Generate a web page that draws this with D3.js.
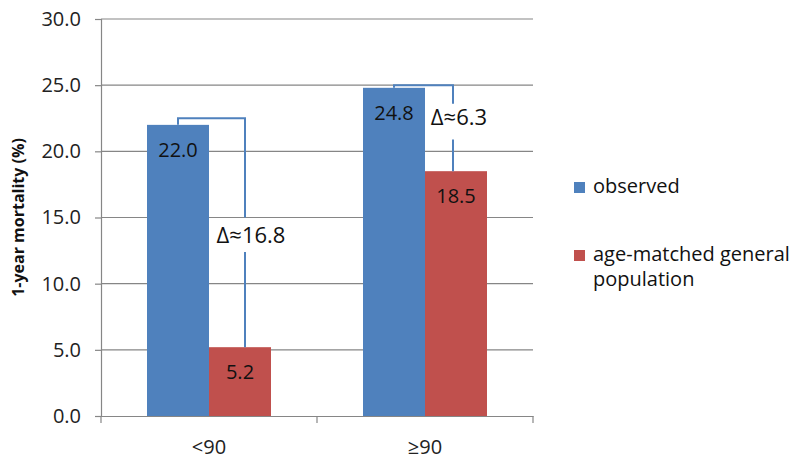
<!DOCTYPE html>
<html><head><meta charset="utf-8">
<script src="https://cdn.jsdelivr.net/npm/d3@7"></script>
<style>
body{margin:0;background:#fff;}
text{font-family:"Open Sans","Noto Sans",sans-serif;}
</style></head>
<body><svg id="c" width="800" height="466"></svg>
<script>
const categories = ["<90", "\u226590"];
const seriesNames = ["observed", "age-matched general population"];
const observed = [22.0, 24.8];
const ageMatched = [5.2, 18.5];
const bracketTop = [22.5, 25.0];
const deltaLabels = ["\u0394\u224816.8", "\u0394\u22486.3"];
const deltaLabelY = [13.1, 22.0];
const gapTop = [15.0, 23.6];
const gapBottom = [12.4, 20.9];
const yTicks = [0, 5, 10, 15, 20, 25, 30];
const colors = ["#4F81BD", "#C0504D"];

const svg = d3.select("#c");
const m = {l:101, r:267, t:19, b:50};
const W = 800, H = 466;
const x = d3.scaleBand().domain(categories).range([m.l, W - m.r]);
const y = d3.scaleLinear().domain([0, 30]).range([H - m.b, m.t]);
const sub = d3.scaleBand().domain([0,1]).range([0, 124]);
const grey = "#868686";

// gridlines
svg.append("g").selectAll("line").data(yTicks.filter(d=>d>0)).join("line")
  .attr("x1", m.l).attr("x2", W - m.r)
  .attr("y1", d=>y(d)).attr("y2", d=>y(d))
  .attr("stroke", grey).attr("stroke-width", 1.2);

// y axis
const ya = svg.append("g").attr("transform", `translate(${m.l},0)`)
  .call(d3.axisLeft(y).tickValues(yTicks).tickFormat(d3.format(".1f")).tickSize(6).tickPadding(14));
ya.select(".domain").attr("stroke", grey).attr("stroke-width", 1.2);
ya.selectAll(".tick line").attr("stroke", grey).attr("stroke-width", 1.2);
ya.selectAll(".tick text").attr("font-size", 20).attr("fill", "#222")
  .attr("font-family", '"Open Sans",sans-serif');

// x axis
const xa = svg.append("g").attr("transform", `translate(0,${H - m.b})`)
  .call(d3.axisBottom(x).tickSize(0).tickPadding(24));
xa.select(".domain").attr("stroke", grey).attr("stroke-width", 1.2);
xa.selectAll(".tick text").attr("font-size", 20).attr("fill", "#222")
  .attr("font-family", '"Open Sans",sans-serif');
const bounds = [m.l, ...categories.map(c => x(c) + x.bandwidth())];
svg.append("g").selectAll("line").data(bounds).join("line")
  .attr("x1", d=>d).attr("x2", d=>d)
  .attr("y1", H - m.b).attr("y2", H - m.b + 7)
  .attr("stroke", grey).attr("stroke-width", 1.2);

// bars
const series = [observed, ageMatched];
const barX = (ci, si) => x(categories[ci]) + x.bandwidth()/2 - 62 + sub(si);
series.forEach((vals, si) => {
  svg.append("g").selectAll("rect").data(vals).join("rect")
    .attr("x", (d,i)=>barX(i, si))
    .attr("width", sub.bandwidth())
    .attr("y", d=>y(d)).attr("height", d=>y(0)-y(d))
    .attr("fill", colors[si]);
  svg.append("g").selectAll("text").data(vals).join("text")
    .attr("x", (d,i)=>barX(i, si) + sub.bandwidth()/2)
    .attr("y", d=>y(d) + 32)
    .attr("text-anchor", "middle").attr("font-size", 20).attr("fill", "#111")
    .text(d=>d3.format(".1f")(d));
});

// brackets
const offs = [5, -3];
categories.forEach((c, i) => {
  const x1 = barX(i, 0) + sub.bandwidth()/2;
  const x2 = barX(i, 1) + sub.bandwidth()/2 + offs[i];
  const p = d3.path();
  p.moveTo(x1, y(observed[i])); p.lineTo(x1, y(bracketTop[i]));
  p.lineTo(x2, y(bracketTop[i])); p.lineTo(x2, y(gapTop[i]));
  p.moveTo(x2, y(gapBottom[i])); p.lineTo(x2, y(ageMatched[i]));
  svg.append("path").attr("d", p.toString()).attr("fill", "none")
    .attr("stroke", colors[0]).attr("stroke-width", 2);
  svg.append("text").attr("x", x2 + 6).attr("y", y(deltaLabelY[i]))
    .attr("text-anchor", "middle").attr("font-size", 22).attr("fill", "#111")
    .text(deltaLabels[i]);
});

// y title
svg.append("text").attr("transform", `translate(24,${(m.t + H - m.b)/2}) rotate(-90)`)
  .attr("text-anchor", "middle").attr("font-size", 16).attr("font-weight", "bold")
  .attr("fill", "#111").text("1-year mortality (%)");

// legend
const legY = [187, 255];
const legLines = [["observed"], ["age-matched general", "population"]];
seriesNames.forEach((n, i) => {
  svg.append("rect").attr("x", 574).attr("y", legY[i] - 5).attr("width", 11).attr("height", 11)
    .attr("fill", colors[i]);
  const t = svg.append("text").attr("x", 593).attr("y", legY[i] + 6)
    .attr("font-size", 20).attr("fill", "#111");
  legLines[i].forEach((l, j) => t.append("tspan").attr("x", 593).attr("dy", j ? 25 : 0).text(l));
});
</script></body></html>
